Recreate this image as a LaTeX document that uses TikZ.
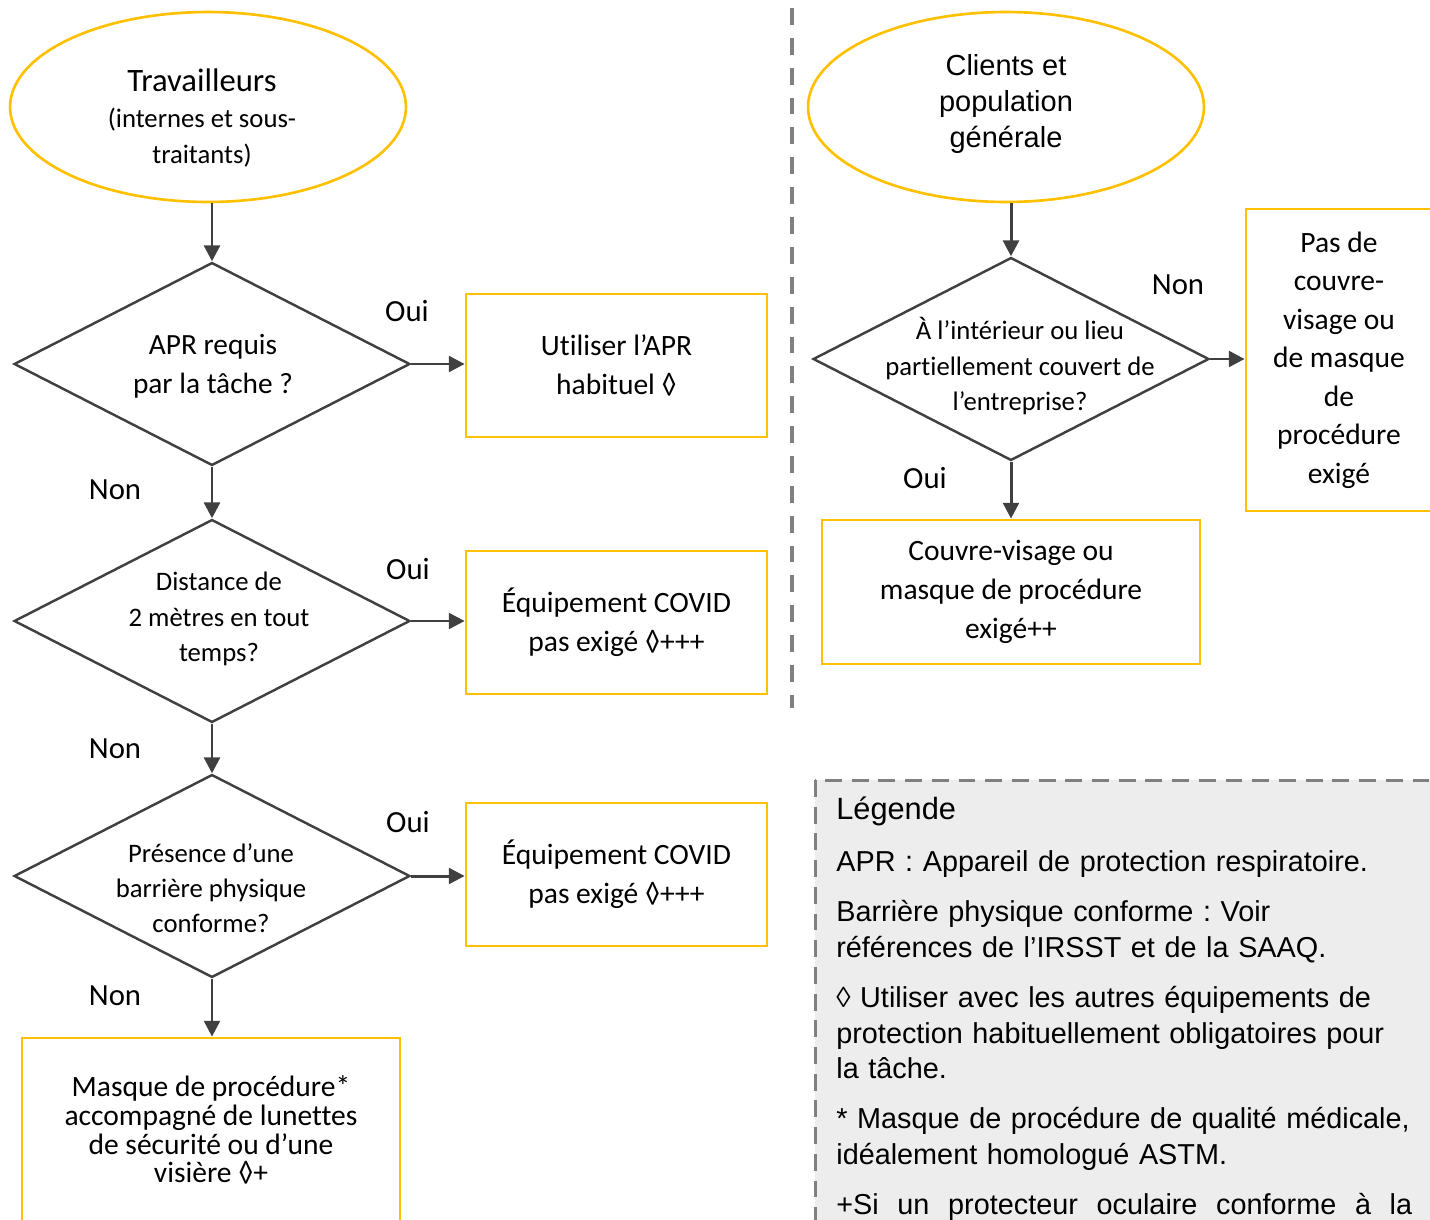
\documentclass[tikz,border=0pt]{standalone}
\usepackage{fontspec}
\setmainfont{Carlito}[Ligatures=NoCommon]
\newfontfamily\arialfont{Liberation Sans}
\usetikzlibrary{shapes.geometric,arrows.meta}

\definecolor{jaune}{HTML}{FFC000}
\definecolor{fleche}{HTML}{404040}
\definecolor{tiret}{HTML}{808080}
\definecolor{fondleg}{HTML}{EDEDED}

\begin{document}
\frenchspacing
\begin{tikzpicture}[x=0.02cm, y=-0.02cm,
  ovale/.style={ellipse, draw=jaune, line width=1.5pt, minimum width=7.92cm, minimum height=3.8cm, inner sep=0pt},
  losange/.style={diamond, draw=fleche, line width=1.4pt, minimum width=7.92cm, minimum height=4.06cm, inner sep=0pt},
  qtxt/.style={align=center, inner sep=0pt, font=\fontsize{15.2}{20.4}\selectfont},
  boite/.style={rectangle, draw=jaune, line width=1.6pt, inner sep=0pt, align=center, font=\fontsize{16.8}{22}\selectfont},
  reponse/.style={inner sep=0pt, font=\fontsize{17.5}{20}\selectfont},
  fl/.style={draw=fleche, line width=1.7pt, -{Triangle[length=9pt,width=9pt]}},
  separateur/.style={draw=tiret, line width=2.8pt, dash pattern=on 9.6pt off 7.4pt},
  cadreleg/.style={draw=tiret, fill=fondleg, line width=1.7pt, dash pattern=on 9.6pt off 5.6pt},
  legende/.style={inner sep=0pt, text width=11.52cm, align=left, font=\arialfont\fontsize{16.4}{20.4}\selectfont},
]
\clip (0,0) rectangle (1430,1220);
\useasboundingbox (0,0) rectangle (1430,1220);

% colonne des travailleurs
\node[ovale] (trav) at (208,107) {};
\node[qtxt, font=\fontsize{15.2}{20.4}\selectfont] (travtxt) at (202,118) {{\fontsize{18.6}{20.4}\selectfont Travailleurs}\\(internes et sous-\\traitants)};

\node[losange] (q1) at (212,364) {};
\node[qtxt, font=\fontsize{16.7}{22}\selectfont] (q1txt) at (213,366) {APR requis\\par la tâche ?};
\node[losange] (q2) at (212,621) {};
\node[qtxt] (q2txt) at (219,619) {Distance de\\2 mètres en tout\\temps?};
\node[losange] (q3) at (212,876) {};
\node[qtxt, font=\fontsize{15.2}{20}\selectfont] (q3txt) at (211,888) {Présence d’une\\barrière physique\\conforme?};

\node[boite, minimum width=6.02cm, minimum height=2.86cm] (b1) at (616.5,365.5) {Utiliser l’APR\\habituel ◊};
\node[boite, minimum width=6.02cm, minimum height=2.86cm] (b2) at (616.5,622.5) {Équipement COVID\\pas exigé ◊+++};
\node[boite, minimum width=6.02cm, minimum height=2.86cm] (b3) at (616.5,874.5) {Équipement COVID\\pas exigé ◊+++};
\node[boite, minimum width=7.56cm, minimum height=3.68cm, font=\fontsize{16.8}{16.4}\selectfont] (b4) at (211,1130) {Masque de procédure*\\accompagné de lunettes\\de sécurité ou d’une\\visière ◊+};

\node[reponse] (oui1) at (407,311) {Oui};
\node[reponse] (oui2) at (408,569) {Oui};
\node[reponse] (oui3) at (408,822) {Oui};
\node[reponse] (non1) at (115,490) {Non};
\node[reponse] (non2) at (115,749) {Non};
\node[reponse] (non3) at (115,996) {Non};

\draw[fl] (trav.south -| q1.north) -- (q1.north);
\draw[fl] (q1.south) -- (q2.north);
\draw[fl] (q2.south) -- (q3.north);
\draw[fl] (q3.south) -- (q3.south |- b4.north);
\draw[fl] (q1.east) -- (q1.east -| b1.west);
\draw[fl] (q2.east) -- (q2.east -| b2.west);
\draw[fl] (q3.east) -- (q3.east -| b3.west);

\draw[separateur] (792,8) -- (792,708);

% colonne des clients
\node[ovale] (clients) at (1006,107) {};
\node[qtxt, font=\arialfont\fontsize{16.5}{20.4}\selectfont] (clientstxt) at (1006,104) {Clients et\\population\\générale};

\node[losange] (qr) at (1011,359) {};
\node[qtxt] (qrtxt) at (1020,366) {À l’intérieur ou lieu\\partiellement couvert de\\l’entreprise?};

\node[boite, minimum width=3.72cm, minimum height=6.04cm, font=\fontsize{16.8}{21.9}\selectfont] (r1) at (1339,360) {Pas de\\couvre-\\visage ou\\de masque\\de\\procédure\\exigé};
\node[boite, minimum width=7.56cm, minimum height=2.88cm] (r2) at (1011,592) {Couvre-visage ou\\masque de procédure\\exigé++};

\node[reponse] (nonr) at (1178,285) {Non};
\node[reponse] (ouir) at (925,478) {Oui};

\draw[fl] (clients.south -| qr.north) -- (qr.north);
\draw[fl] (qr.east) -- (qr.east -| r1.west);
\draw[fl] (qr.south) -- (qr.south |- r2.north);

% legende
\draw[cadreleg] (815,780) rectangle (1450,1240);
\node[legende, anchor=north west] (leg) at (836,797) {{\fontsize{17.5}{20.4}\selectfont Légende}\\[9pt]
APR : Appareil de protection respiratoire.\\[8pt]
Barrière physique conforme : Voir\\
références de l’IRSST et de la SAAQ.\\[8pt]
◊ Utiliser avec les autres équipements de\\
protection habituellement obligatoires pour\\
la tâche.\\[8pt]
* Masque de procédure de qualité médicale,\\
idéalement homologué ASTM.\\[8pt]
\hbox to 11.52cm{+Si\hfill un\hfill protecteur\hfill oculaire\hfill conforme\hfill à\hfill la}};
\end{tikzpicture}
\end{document}
